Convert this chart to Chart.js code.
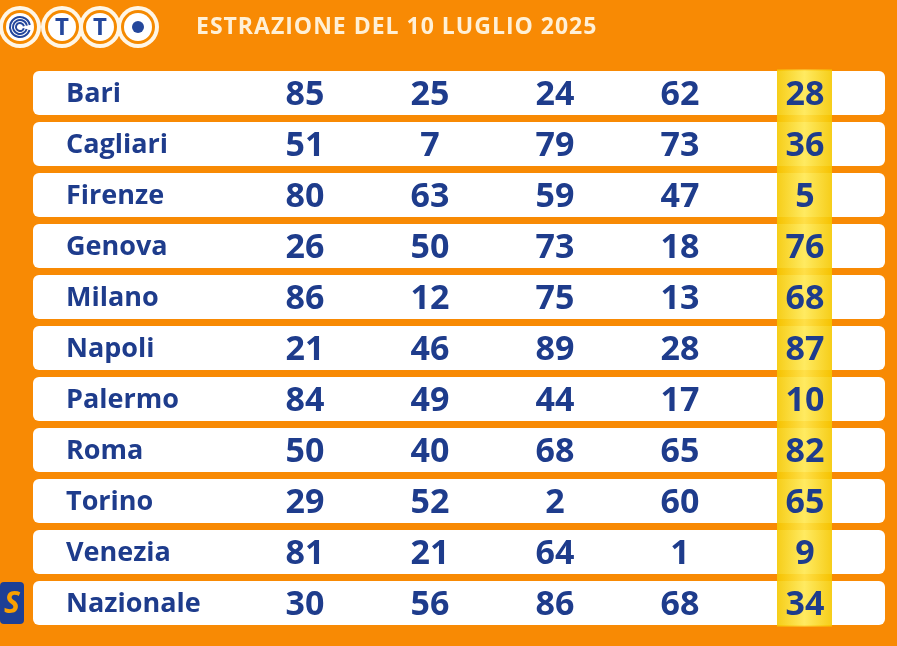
<!DOCTYPE html>
<html><head><meta charset="utf-8">
<script src="https://cdn.jsdelivr.net/npm/chart.js@4"></script>
<style>html,body{margin:0;padding:0;background:#f88a04;}#w{width:897px;height:646px;}</style>
</head><body><div id="w"><canvas id="c"></canvas></div>
<script>
const title = "ESTRAZIONE DEL 10 LUGLIO 2025";
const cities = ["Bari","Cagliari","Firenze","Genova","Milano","Napoli","Palermo","Roma","Torino","Venezia","Nazionale"];
const n1 = [85,51,80,26,86,21,84,50,29,81,30];
const n2 = [25,7,63,50,12,46,49,40,52,21,56];
const n3 = [24,79,59,73,75,89,44,68,2,64,86];
const n4 = [62,73,47,18,13,28,17,65,60,1,68];
const n5 = [28,36,5,76,68,87,10,82,65,9,34];
const cols = [n1,n2,n3,n4,n5];
const colX = [272,397,522,647,772];
const BLUE = "#1e3c8c";

const tablePlugin = {
  id:'table',
  afterDatasetsDraw(ch){
    const ctx=ch.ctx, xs=ch.scales.x, ys=ch.scales.y;
    ctx.save();
    const l=xs.getPixelForValue(744), r=xs.getPixelForValue(799);
    const g=ctx.createLinearGradient(l,0,r,0);
    g.addColorStop(0,"rgba(245,200,0,0.9)");g.addColorStop(0.5,"rgba(255,232,80,0.9)");g.addColorStop(1,"rgba(245,200,0,0.9)");
    ctx.fillStyle=g;ctx.fillRect(l,ch.chartArea.top+2,r-l,ch.chartArea.bottom-ch.chartArea.top-4);
    ctx.fillStyle=BLUE;ctx.textBaseline="middle";
    cities.forEach((c,i)=>{
      const y=ys.getPixelForValue(i);
      ctx.font="bold 27px 'Open Sans'";ctx.textAlign="left";
      ctx.fillText(c,xs.getPixelForValue(33),y+1);
      ctx.font="bold 34px 'Open Sans'";ctx.textAlign="center";
      cols.forEach((arr,k)=>ctx.fillText(String(arr[i]),xs.getPixelForValue(colX[k]),y+2));
    });
    const yN=ys.getPixelForValue(cities.length-1);
    ctx.fillStyle="#1d3f95";ctx.beginPath();ctx.roundRect(0,yN-21,24,42,4);ctx.fill();
    ctx.fillStyle="#f9a000";ctx.font="italic bold 30px 'Open Sans'";ctx.fillText("S",12,yN+1);
    ctx.fillStyle="#fff0d6";ctx.font="bold 23px 'Open Sans'";ctx.textAlign="left";
    ctx.letterSpacing="1px";
    ctx.fillText(title,196,27);
    ctx.letterSpacing="0px";
    const cx=[20,62,100,138];
    cx.forEach(x=>{
      ctx.beginPath();ctx.arc(x,27,21,0,Math.PI*2);ctx.fillStyle="#fff6e6";ctx.fill();
      ctx.beginPath();ctx.arc(x,27,17,0,Math.PI*2);ctx.fillStyle="#f58a00";ctx.fill();
      ctx.beginPath();ctx.arc(x,27,14,0,Math.PI*2);ctx.fillStyle="#ffffff";ctx.fill();
    });
    ctx.fillStyle="#24479c";ctx.textAlign="center";ctx.font="bold 24px 'Open Sans'";
    ctx.fillText("T",62,28);ctx.fillText("T",100,28);
    ctx.beginPath();ctx.arc(138,27,6,0,Math.PI*2);ctx.fill();
    ctx.strokeStyle="#24479c";ctx.lineWidth=2;
    [10,7,4].forEach(r=>{ctx.beginPath();ctx.arc(20,27,r,0.3,Math.PI*2-0.2);ctx.stroke();});
    ctx.restore();
  }
};

new Chart(document.getElementById('c'),{
  type:'bar',
  data:{labels:cities,datasets:[{data:cities.map(()=>[0,852]),backgroundColor:"#ffffff",borderRadius:6,borderSkipped:false,
    categoryPercentage:1,barPercentage:0.86}]},
  options:{indexAxis:'y',responsive:true,maintainAspectRatio:false,animation:false,
    layout:{padding:{left:33,right:12,top:67.5,bottom:17.5}},
    plugins:{legend:{display:false},tooltip:{enabled:false}},
    scales:{x:{display:false,min:0,max:852},y:{display:false}}},
  plugins:[tablePlugin]
});
</script></body></html>
